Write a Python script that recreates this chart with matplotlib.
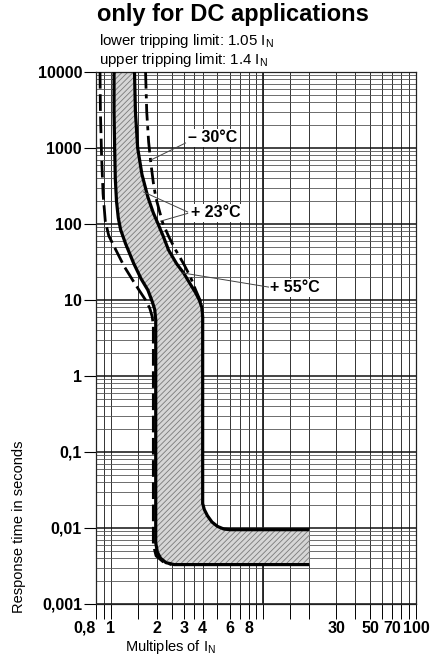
import matplotlib
matplotlib.use("Agg")
import matplotlib.pyplot as plt

# ----------------------------------------------------
# Data
# ----------------------------------------------------
# +23°C lower limit (left edge of the band)
lower_x = [1.05, 1.05, 1.06, 1.07, 1.09, 1.12, 1.16, 1.25, 1.41, 1.58, 1.75, 1.87, 1.94,
           1.97, 1.97, 2.02, 2.12, 2.3, 2.6, 2.87, 20]
lower_y = [10000, 3000, 1000, 400, 200, 120, 84, 55, 30.6, 19, 13.5, 9.5, 7.5,
           5.5, 0.0064, 0.0048, 0.0040, 0.0035, 0.0033, 0.0033, 0.0033]

# +23°C upper limit (right edge of the band)
upper_x = [1.43, 1.45, 1.50, 1.6, 1.75, 1.9, 2.03, 2.2, 2.39, 2.7, 3.0, 3.3, 3.6, 3.8,
           3.95, 4.0, 4.0, 4.1, 4.3, 4.6, 5.0, 5.5, 6.0, 20]
upper_y = [10000, 3000, 1000, 450, 226, 140, 103, 70, 45.5, 30, 22.7, 16.5, 12.4, 10,
           8, 6, 0.021, 0.0175, 0.0145, 0.012, 0.0105, 0.0097, 0.0095, 0.0095]

# -30°C curve (dash-dot)
minus30_x = [1.69, 1.72, 1.77, 1.83, 1.9, 1.97, 2.08, 2.19, 2.4, 2.66, 3.0, 3.33, 3.6, 3.8, 3.97]
minus30_y = [10000, 3000, 1200, 635, 350, 226, 150, 103, 68, 45.5, 30, 20, 13.5, 10.5, 8.5]

# +55°C curve (dashed)
plus55_x = [0.85, 0.855, 0.87, 0.89, 0.92, 0.97, 1.08, 1.22, 1.39, 1.55, 1.69, 1.8, 1.87,
            1.9, 1.9, 1.98, 2.2, 2.5]
plus55_y = [10000, 3000, 800, 250, 110, 70, 45.5, 28, 18.3, 13, 10, 7.8, 6,
            4.5, 0.006, 0.0043, 0.0036, 0.0033]

x_grid = [0.8, 0.9, 1, 1.5, 2, 2.5, 3, 3.5, 4, 5, 6, 7, 8, 9, 10,
          15, 20, 30, 40, 50, 60, 70, 80, 90, 100]
x_labels = {0.8: "0,8", 1: "1", 2: "2", 3: "3", 4: "4", 6: "6", 8: "8",
            30: "30", 50: "50", 70: "70", 100: "100"}
y_ticks = [0.001, 0.01, 0.1, 1, 10, 100, 1000, 10000]
y_labels = ["0,001", "0,01", "0,1", "1", "10", "100", "1000", "10000"]

# leader lines: label text, text anchor, list of line ends (start, end)
temp_labels = [
    ("\u2013 30°C", (3.23, 1355), [((3.09, 1164), (1.83, 695))]),
    ("+ 23°C", (3.33, 140), [((3.19, 144), (1.64, 264)), ((3.19, 138), (2.12, 109))]),
    ("+ 55°C", (11.1, 14.4), [((10.8, 14.8), (2.96, 22.7))]),
]

# ----------------------------------------------------
# Style
# ----------------------------------------------------
plt.rcParams["font.family"] = ["Liberation Sans", "DejaVu Sans"]
plt.rcParams["mathtext.fontset"] = "custom"
plt.rcParams["mathtext.rm"] = "Liberation Sans"
plt.rcParams["hatch.linewidth"] = 0.6

fig = plt.figure(figsize=(4.38, 6.59), dpi=100)
ax = fig.add_axes([96 / 438, 55 / 659, 320 / 438, 532 / 659])
ax.set_xscale("log")
ax.set_yscale("log")
ax.set_xlim(0.8, 100)
ax.set_ylim(0.001, 10000)

# grid
ax.set_xticks(x_grid)
ax.set_xticklabels([x_labels.get(v, "") for v in x_grid], fontsize=11.5, fontweight="bold")
ax.xaxis.set_minor_locator(matplotlib.ticker.NullLocator())
ax.set_yticks(y_ticks)
ax.set_yticklabels(y_labels, fontsize=11.5, fontweight="bold")
ax.yaxis.set_minor_locator(matplotlib.ticker.LogLocator(base=10, subs=range(2, 10)))
ax.yaxis.set_minor_formatter(matplotlib.ticker.NullFormatter())
ax.tick_params(axis="x", which="major", direction="out", length=11, width=0.7, pad=1)
ax.tick_params(axis="y", which="major", direction="out", length=9, width=0.8, pad=1)
ax.tick_params(axis="y", which="minor", length=0)
ax.grid(True, axis="x", which="major", color="#333333", lw=0.7)
ax.grid(True, axis="y", which="major", color="#111111", lw=1.1)
ax.grid(True, axis="y", which="minor", color="#555555", lw=0.6)
ax.axvline(10, color="#222222", lw=1.3)
ax.set_axisbelow(True)
for lab in ax.get_xticklabels():
    if lab.get_text() == "0,8":
        lab.set_horizontalalignment("right")
for s in ax.spines.values():
    s.set_color("#222222")
    s.set_linewidth(0.9)

# hatched tolerance band
band_x = lower_x + upper_x[::-1]
band_y = lower_y + upper_y[::-1]
ax.fill(band_x, band_y, facecolor="#d6d6d6", edgecolor="#7a7a7a", hatch="//////", linewidth=0, zorder=2)

# curves
ax.plot(lower_x, lower_y, color="black", lw=2.3, solid_capstyle="butt", solid_joinstyle="round", zorder=4)
ax.plot(upper_x, upper_y, color="black", lw=2.3, solid_capstyle="butt", solid_joinstyle="round", zorder=4)
ax.plot(minus30_x, minus30_y, color="black", lw=2.0, dashes=(6, 2, 1.5, 2), zorder=4)
ax.plot(plus55_x, plus55_y, color="black", lw=2.0, dashes=(6, 2), zorder=4)

# temperature labels with leader lines
for text, pos, leaders in temp_labels:
    for (x0, y0), (x1, y1) in leaders:
        ax.plot([x0, x1], [y0, y1], color="#444444", lw=0.7, zorder=5)
    ax.text(pos[0], pos[1], text, fontsize=11.5, fontweight="bold", ha="left", va="center",
            zorder=6, bbox=dict(facecolor="white", edgecolor="none", pad=1.0))

# ----------------------------------------------------
# Titles and axis labels
# ----------------------------------------------------
fig.text(97 / 438, 1 - 15 / 659, "only for DC applications", fontsize=17,
         fontweight="bold", ha="left", va="center")
fig.text(99 / 438, 1 - 41 / 659, "lower tripping limit: 1.05 I$_\\mathrm{N}$",
         fontsize=10.8, ha="left", va="center")
fig.text(99 / 438, 1 - 60 / 659, "upper tripping limit: 1.4 I$_\\mathrm{N}$",
         fontsize=10.8, ha="left", va="center")
fig.text(19 / 438, 1 - 527 / 659, "Response time in seconds", fontsize=10.5,
         rotation=90, ha="center", va="center")
fig.text(170 / 438, 1 - 647 / 659, "Multiples of I$_\\mathrm{N}$", fontsize=10.5,
         ha="center", va="center")

fig.savefig("out.png", dpi=100)
